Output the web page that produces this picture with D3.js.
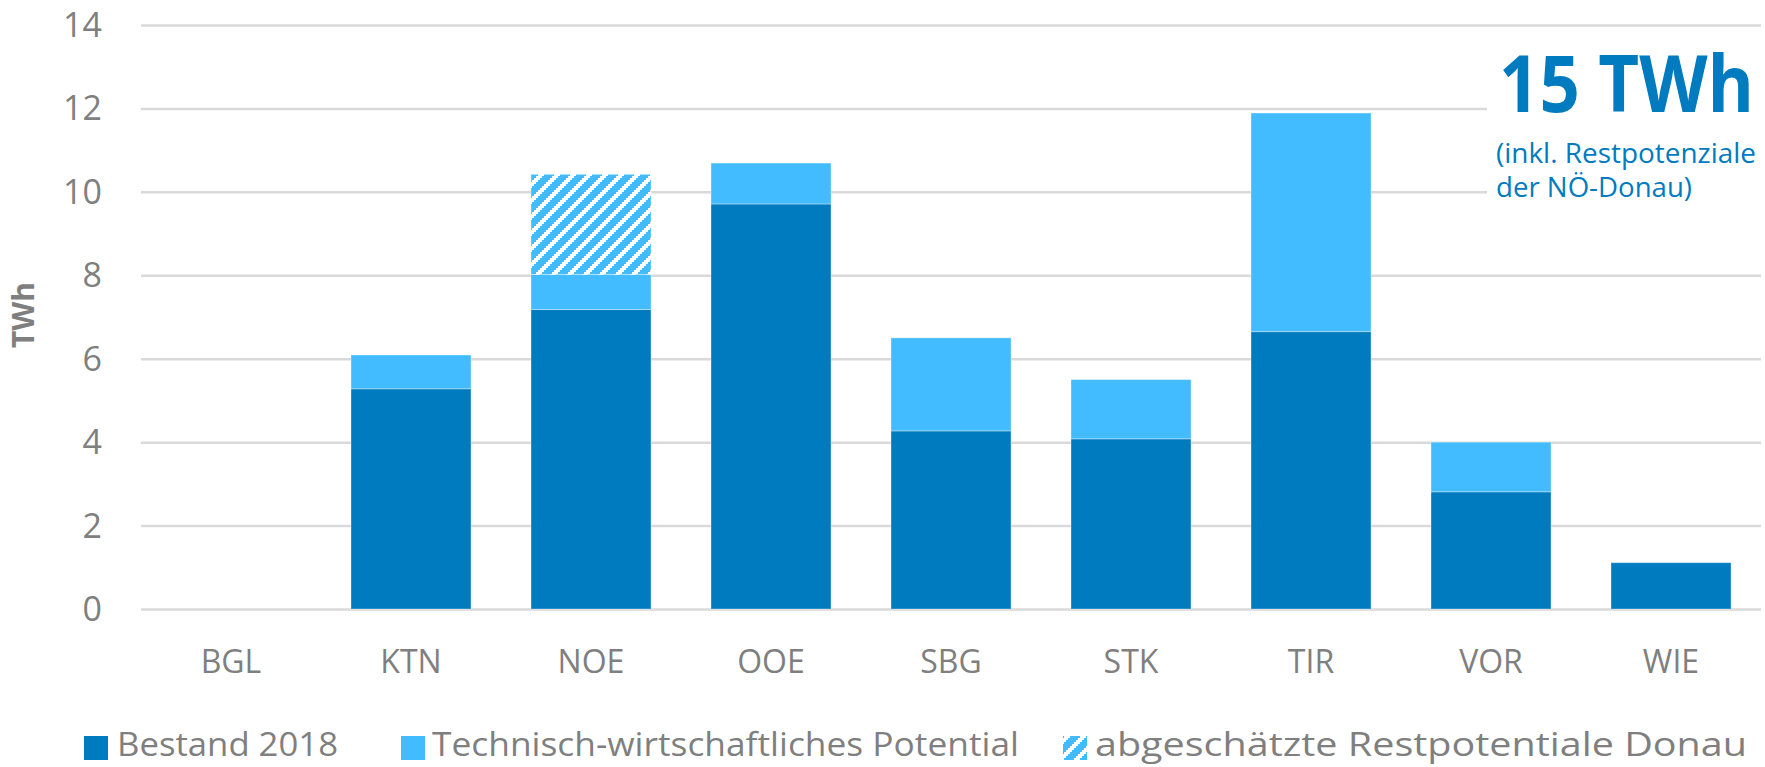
<!DOCTYPE html>
<html>
<head>
<meta charset="utf-8">
<script src="https://cdn.jsdelivr.net/npm/d3@7"></script>
<style>
  html, body { margin: 0; padding: 0; background: #ffffff; }
  svg { display: block; }
</style>
</head>
<body>
<svg id="chart" width="1765" height="767"></svg>
<script>
const categories = ["BGL", "KTN", "NOE", "OOE", "SBG", "STK", "TIR", "VOR", "WIE"];
const bestand2018 = [0, 5.28, 7.18, 9.71, 4.27, 4.08, 6.65, 2.81, 1.11];
const technPotential = [0, 0.81, 0.84, 0.98, 2.23, 1.42, 5.24, 1.19, 0];
const restDonau = [0, 0, 2.40, 0, 0, 0, 0, 0, 0];
const yTicks = [0, 2, 4, 6, 8, 10, 12, 14];
const seriesNames = ["Bestand 2018", "Technisch-wirtschaftliches Potential", "abgeschätzte Restpotentiale Donau"];
const yTitle = "TWh";
const noteBig = "15 TWh";
const noteSmall = ["(inkl. Restpotenziale", "der NÖ-Donau)"];

const colDark = "#007BBF";
const colLight = "#43BCFF";
const textGray = "#7F7F7F";
const font = "'Open Sans', sans-serif";

const svg = d3.select("#chart");
const defs = svg.append("defs");

// Excel-like "wide upward diagonal" hatch, scaled 2x
const pat = defs.append("pattern")
  .attr("id", "hatch")
  .attr("patternUnits", "userSpaceOnUse")
  .attr("width", 16).attr("height", 16);
pat.append("rect").attr("width", 16).attr("height", 16).attr("fill", "#ffffff");
const rows = d3.range(8);
[0, -16, 16].forEach(shift => {
  pat.selectAll(null).data(rows).enter().append("rect")
    .attr("x", r => 2 * r + shift)
    .attr("y", r => 14 - 2 * r)
    .attr("width", 10).attr("height", 2)
    .attr("fill", colLight);
});

const x = d3.scaleBand().domain(categories).range([141, 1761])
  .paddingInner(1 / 3).paddingOuter(1 / 6);
const y = d3.scaleLinear().domain([0, 14]).range([609, 25]);

// gridlines
const grid = svg.append("g").attr("transform", "translate(141,0)")
  .call(d3.axisLeft(y).tickValues(yTicks).tickSize(-1620).tickFormat(""));
grid.select(".domain").remove();
grid.selectAll("line").attr("stroke", "#D9D9D9").attr("stroke-width", 2.5);

// y tick labels
svg.append("g").selectAll("text").data(yTicks).enter().append("text")
  .attr("x", 102).attr("y", d => y(d) + 12)
  .attr("text-anchor", "end")
  .attr("font-family", font).attr("font-size", 34)
  .attr("fill", textGray).text(d => d);

// y title
svg.append("text")
  .attr("transform", "translate(34,315) rotate(-90)")
  .attr("text-anchor", "middle")
  .attr("font-family", font).attr("font-size", 30).attr("font-weight", "bold")
  .attr("fill", textGray).text(yTitle);

// annotation background (interrupts gridlines)
svg.append("rect").attr("x", 1487).attr("y", 40).attr("width", 290).attr("height", 190)
  .attr("fill", "#ffffff");

// stacked bars
const stackData = categories.map((c, i) => ({
  cat: c, b: bestand2018[i], p: technPotential[i], d: restDonau[i]
}));
const stack = d3.stack().keys(["b", "p", "d"])(stackData);
const fills = [colDark, colLight, "url(#hatch)"];
stack.forEach((layer, li) => {
  svg.append("g").selectAll("rect").data(layer.filter(s => s[1] - s[0] > 0)).enter().append("rect")
    .attr("x", s => x(s.data.cat))
    .attr("width", x.bandwidth())
    .attr("y", s => y(s[1]))
    .attr("height", s => y(s[0]) - y(s[1]))
    .attr("fill", fills[li])
    .attr("stroke", "rgba(255,255,255,0.35)")
    .attr("stroke-width", 1);
});

// x labels
svg.append("g").selectAll("text").data(categories).enter().append("text")
  .attr("x", d => x(d) + x.bandwidth() / 2).attr("y", 673)
  .attr("text-anchor", "middle")
  .attr("font-family", font).attr("font-size", 32)
  .attr("fill", textGray).text(d => d);

// annotation
svg.append("text")
  .attr("transform", "translate(1499,112) scale(1,1.1)")
  .attr("font-family", font).attr("font-size", 71).attr("font-weight", "bold")
  .attr("fill", colDark)
  .attr("textLength", 255).attr("lengthAdjust", "spacingAndGlyphs")
  .text(noteBig);
const smallLens = [260, 196];
svg.append("g").selectAll("text").data(noteSmall).enter().append("text")
  .attr("x", 1496).attr("y", (d, i) => 163 + i * 34)
  .attr("font-family", font).attr("font-size", 27)
  .attr("fill", colDark)
  .attr("textLength", (d, i) => smallLens[i]).attr("lengthAdjust", "spacingAndGlyphs")
  .text(d => d);

// legend
const legendItems = [
  { name: seriesNames[0], fill: colDark, sx: 84, tx: 117, tl: 221 },
  { name: seriesNames[1], fill: colLight, sx: 401, tx: 432, tl: 587 },
  { name: seriesNames[2], fill: "url(#hatch)", sx: 1063, tx: 1095, tl: 652 }
];
const lg = svg.append("g");
lg.selectAll("rect").data(legendItems).enter().append("rect")
  .attr("x", d => d.sx).attr("y", 736).attr("width", 24).attr("height", 24)
  .attr("fill", d => d.fill);
lg.selectAll("text").data(legendItems).enter().append("text")
  .attr("x", d => d.tx).attr("y", 756)
  .attr("font-family", font).attr("font-size", 33)
  .attr("fill", textGray)
  .attr("textLength", d => d.tl).attr("lengthAdjust", "spacingAndGlyphs")
  .text(d => d.name);
</script>
</body>
</html>
